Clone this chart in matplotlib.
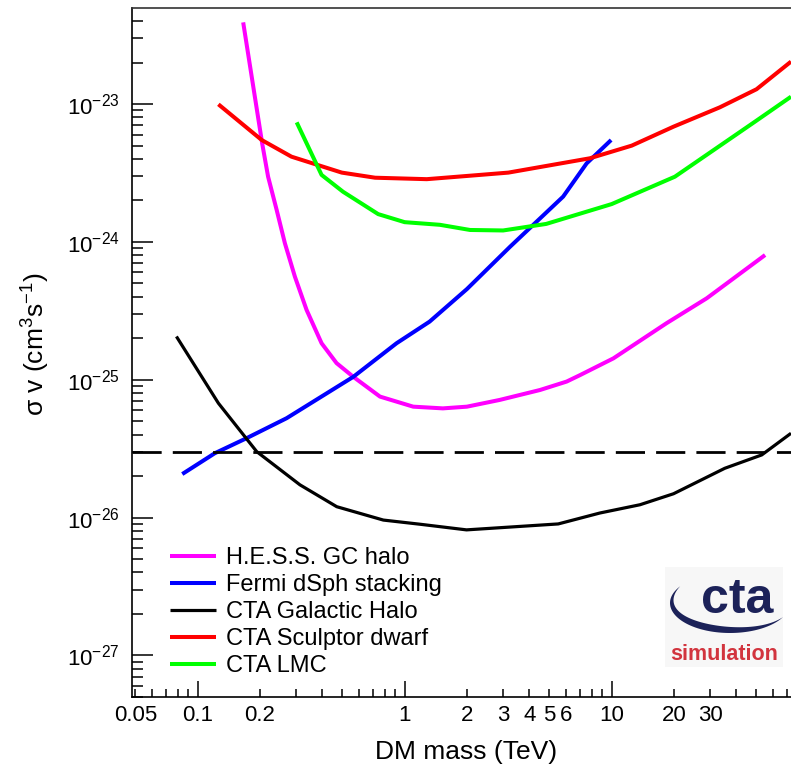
import matplotlib
matplotlib.use('Agg')
import matplotlib.pyplot as plt
import numpy as np
from matplotlib.ticker import FixedLocator, FuncFormatter, LogLocator, NullFormatter
from matplotlib.patches import Polygon, Rectangle

plt.rcParams['font.family'] = ['Liberation Sans', 'DejaVu Sans']
plt.rcParams['mathtext.fontset'] = 'custom'
plt.rcParams['mathtext.rm'] = 'Liberation Sans'
plt.rcParams['mathtext.it'] = 'Liberation Sans:italic'
plt.rcParams['mathtext.bf'] = 'Liberation Sans:bold'
plt.rcParams['lines.scale_dashes'] = False

# ---------------- data (TeV, cm^3 s^-1) ----------------
hess_m = [0.166, 0.205, 0.219, 0.241, 0.264, 0.295, 0.336, 0.397, 0.469, 0.565, 0.760,
          1.10, 1.53, 2.0, 2.88, 4.51, 6.06, 7.03, 10.2, 18.4, 28.8, 55.1]
hess_sv = [3.91e-23, 5.19e-24, 2.97e-24, 1.70e-24, 9.77e-25, 5.6e-25, 3.21e-25, 1.84e-25,
           1.32e-25, 1.05e-25, 7.55e-26, 6.38e-26, 6.2e-26, 6.38e-26, 7.14e-26, 8.43e-26,
           9.7e-26, 1.08e-25, 1.43e-25, 2.57e-25, 3.9e-25, 8.03e-25]

fermi_m = [0.0843, 0.121, 0.1725, 0.269, 0.565, 0.914, 1.32, 2.0, 3.23, 5.83, 7.57, 9.94]
fermi_sv = [2.07e-26, 2.93e-26, 3.77e-26, 5.26e-26, 1.05e-25, 1.84e-25, 2.64e-25,
            4.55e-25, 9.22e-25, 2.13e-24, 3.71e-24, 5.48e-24]

gh_m = [0.079, 0.126, 0.193, 0.312, 0.470, 0.789, 1.19, 1.99, 5.52, 8.77, 13.7, 19.9,
        35.2, 53.1, 73.5]
gh_sv = [2.06e-25, 6.76e-26, 3.01e-26, 1.73e-26, 1.20e-26, 9.6e-27, 8.95e-27, 8.15e-27,
         9.0e-27, 1.08e-26, 1.24e-26, 1.49e-26, 2.28e-26, 2.85e-26, 4.09e-26]

scl_m = [0.126, 0.204, 0.284, 0.497, 0.720, 1.28, 2.31, 3.17, 7.85, 12.5, 19.9, 33.3,
         50.1, 73.5]
scl_sv = [9.95e-24, 5.48e-24, 4.15e-24, 3.18e-24, 2.92e-24, 2.85e-24, 3.06e-24, 3.18e-24,
          4.04e-24, 4.99e-24, 6.85e-24, 9.46e-24, 1.28e-23, 2.03e-23]

lmc_m = [0.301, 0.397, 0.504, 0.745, 1.0, 1.48, 2.07, 2.99, 4.83, 10.0, 20.2, 49.2, 73.5]
lmc_sv = [7.36e-24, 3.06e-24, 2.31e-24, 1.59e-24, 1.39e-24, 1.33e-24, 1.22e-24, 1.21e-24,
          1.35e-24, 1.88e-24, 2.97e-24, 7.44e-24, 1.13e-23]

thermal_sv = 3e-26

labels = ["H.E.S.S. GC halo", "Fermi dSph stacking", "CTA Galactic Halo",
          "CTA Sculptor dwarf", "CTA LMC"]
x_labeled = [0.05, 0.1, 0.2, 1, 2, 3, 4, 5, 6, 10, 20, 30]
y_major = [1e-27, 1e-26, 1e-25, 1e-24, 1e-23]

# ---------------- figure ----------------
W, H = 791, 769
fig = plt.figure(figsize=(W / 100, H / 100), dpi=100)
ax = fig.add_axes([132 / W, 72 / H, 659 / W, 689 / H])
ax.set_xscale('log')
ax.set_yscale('log')
ax.set_xlim(0.0482, 73.5)
ax.set_ylim(5.0e-28, 4.97e-23)

l1, = ax.plot(hess_m, hess_sv, color='#ff00ff', lw=2.9, solid_capstyle='butt',
              solid_joinstyle='round')
l2, = ax.plot(fermi_m, fermi_sv, color='#0000ff', lw=2.9, solid_capstyle='butt',
              solid_joinstyle='round')
l3, = ax.plot(gh_m, gh_sv, color='black', lw=2.3, solid_capstyle='butt')
l4, = ax.plot(scl_m, scl_sv, color='#ff0000', lw=2.9, solid_capstyle='butt')
l5, = ax.plot(lmc_m, lmc_sv, color='#00ff00', lw=2.9, solid_capstyle='butt')
ax.axhline(thermal_sv, color='black', lw=2.0, dashes=(21, 8))

ax.spines['right'].set_visible(False)
for s in ['left', 'top', 'bottom']:
    ax.spines[s].set_linewidth(1.2)
ax.spines['top'].set_color('#333333')

# x ticks
ax.xaxis.set_major_locator(FixedLocator([0.1, 1, 10]))
ax.xaxis.set_minor_locator(LogLocator(base=10, subs=np.arange(2, 10), numticks=20))


def xfmt(v, p):
    for t in x_labeled:
        if abs(v - t) / t < 1e-6:
            return f'{t:g}'
    return ''


ax.xaxis.set_major_formatter(FuncFormatter(xfmt))
ax.xaxis.set_minor_formatter(FuncFormatter(xfmt))
ax.tick_params(axis='x', which='major', direction='in', length=11.5, width=1.1,
               labelsize=16, pad=6)
ax.tick_params(axis='x', which='minor', direction='in', length=6, width=1.1,
               labelsize=16, pad=6)

# y ticks
ax.yaxis.set_major_locator(FixedLocator(y_major))
ax.yaxis.set_major_formatter(FuncFormatter(
    lambda v, p: r'$\mathdefault{10^{%d}}$' % int(round(np.log10(v)))))
ax.yaxis.set_minor_locator(LogLocator(base=10, subs=np.arange(2, 10), numticks=20))
ax.yaxis.set_minor_formatter(NullFormatter())
ax.tick_params(axis='y', which='major', direction='in', length=15, width=1.1,
               labelsize=16, pad=9)
ax.tick_params(axis='y', which='minor', direction='in', length=8, width=1.1)

# axis titles
fig.text(466 / W, 1 - 752 / H, 'DM mass (TeV)', ha='center', va='center', fontsize=19)
fig.text(36 / W, 1 - 344 / H, 'σ v (cm$^{3}$s$^{-1}$)', ha='center', va='center',
         rotation=90, fontsize=19)

# legend
leg = ax.legend([l1, l2, l3, l4, l5], labels, loc='upper left',
                bbox_to_anchor=(170 / W, 1 - 547 / H), bbox_transform=fig.transFigure,
                frameon=False, fontsize=17, handlelength=1.95, handletextpad=0.42,
                labelspacing=0.21, borderpad=0, borderaxespad=0)

# CTA logo (drawn)
def fx(x):
    return x / W


def fy(y):
    return 1 - y / H


fig.patches.append(Rectangle((fx(665), fy(667)), 118 / W, 100 / H, transform=fig.transFigure,
                             facecolor='#f7f7f7', edgecolor='none', zorder=3))
cx, cy, rx, ry = 730, 603, 60, 30
th0, th1 = np.deg2rad(146), np.deg2rad(332)
th = np.linspace(th0, th1, 80)
wth = 7 * np.sin(np.pi * (th - th0) / (th1 - th0))
ox = cx + rx * np.cos(th)
oy = cy - ry * np.sin(th)
ix = cx + (rx - wth) * np.cos(th)
iy = cy - (ry - wth) * np.sin(th)
px = np.concatenate([ox, ix[::-1]])
py = np.concatenate([oy, iy[::-1]])
fig.patches.append(Polygon(np.column_stack([fx(px), fy(py)]), closed=True,
                           transform=fig.transFigure, facecolor='#1c2259',
                           edgecolor='none', zorder=4))
fig.text(fx(737), fy(613), 'cta', ha='center', va='baseline', fontsize=36,
         fontweight='bold', color='#1c2259', zorder=5)
fig.text(fx(724), fy(660), 'simulation', ha='center', va='baseline', fontsize=15.5,
         fontweight='bold', color='#d2343e', zorder=5)

fig.savefig('out.png', dpi=100)
